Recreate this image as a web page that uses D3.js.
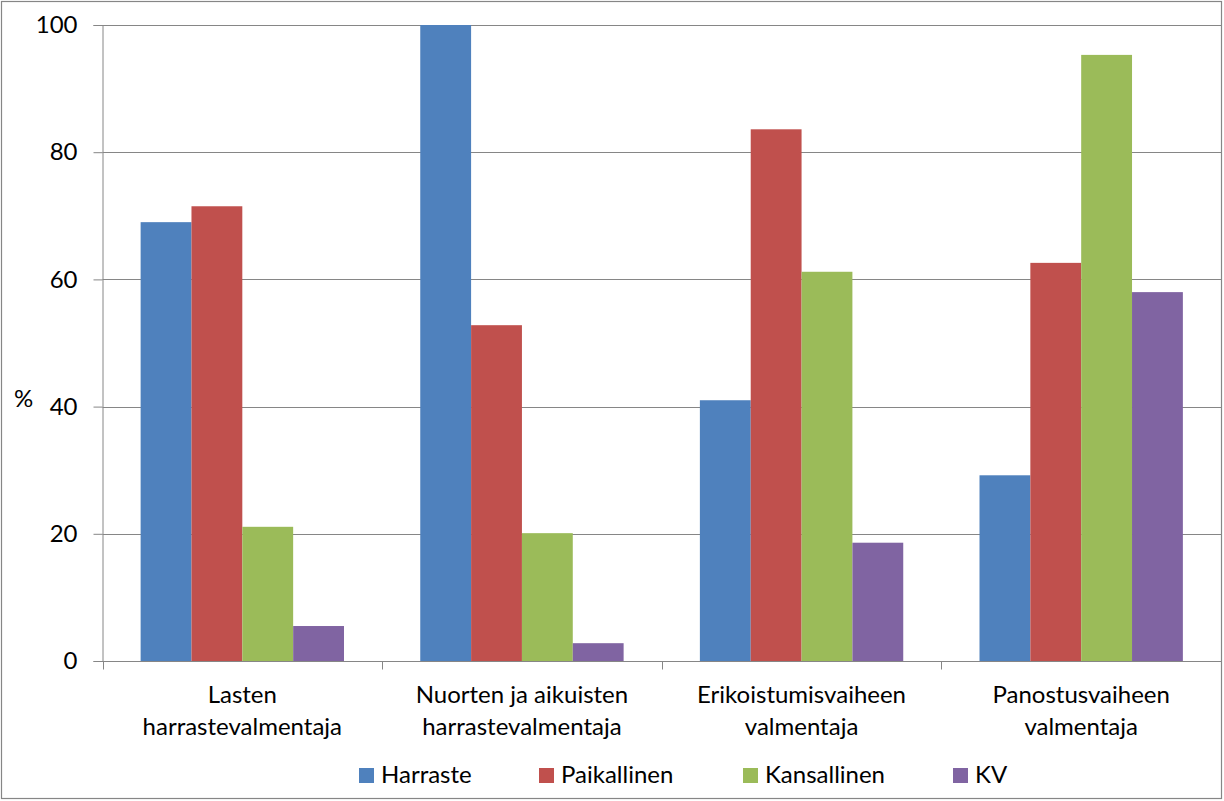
<!DOCTYPE html>
<html><head><meta charset="utf-8">
<script src="https://cdn.jsdelivr.net/npm/d3@7"></script>
<style>body{margin:0;background:#fff}svg{display:block}</style>
</head><body>
<svg id="c" width="1224" height="801"></svg>
<script>
const categories = [["Lasten","harrastevalmentaja"],["Nuorten ja aikuisten","harrastevalmentaja"],["Erikoistumisvaiheen","valmentaja"],["Panostusvaiheen","valmentaja"]];
const seriesNames = ["Harraste","Paikallinen","Kansallinen","KV"];
const seriesColors = ["#4f81bd","#c0504d","#9bbb59","#8064a2"];
const harraste = [69.0, 100, 41.0, 29.2];
const paikallinen = [71.5, 52.8, 83.6, 62.6];
const kansallinen = [21.1, 20.1, 61.2, 95.3];
const kv = [5.5, 2.8, 18.6, 58.0];
const yTicks = [0,20,40,60,80,100];

const values = [harraste, paikallinen, kansallinen, kv];
const svg = d3.select("#c");
const font = "Lato, 'Open Sans', sans-serif";
const fs = 24;
const L=102.5, R=1221, T=25, B=661;
const grey="#868686";

svg.append("rect").attr("x",1.5).attr("y",1.5).attr("width",1220).attr("height",797)
  .attr("fill","none").attr("stroke",grey).attr("stroke-width",1.2);

const catIdx = categories.map((c,i)=>i);
const x0 = d3.scaleBand().domain(catIdx).range([L,R]).padding(0);
const bw = x0.bandwidth()/5.5;
const x1 = d3.scaleBand().domain(d3.range(seriesNames.length)).range([0.75*bw, 0.75*bw+4*bw]).padding(0);
const y = d3.scaleLinear().domain([0,100]).range([B,T]);

// gridlines
svg.append("g").selectAll("line").data(yTicks.filter(t=>t>0)).join("line")
  .attr("x1",L).attr("x2",R).attr("y1",d=>Math.round(y(d))+0.5).attr("y2",d=>Math.round(y(d))+0.5)
  .attr("stroke",grey).attr("stroke-width",1);

// bars
const g = svg.append("g");
catIdx.forEach(ci=>{
  g.append("g").selectAll("rect").data(values.map((s,si)=>({si,v:s[ci]}))).join("rect")
    .attr("x",d=>x0(ci)+x1(d.si)).attr("width",x1.bandwidth())
    .attr("y",d=>y(d.v)).attr("height",d=>B-y(d.v))
    .attr("fill",d=>seriesColors[d.si]);
});

// y axis
const yAxis = d3.axisLeft(y).tickValues(yTicks).tickSize(9).tickPadding(16);
const ya = svg.append("g").attr("transform",`translate(${L},0)`).call(yAxis);
ya.select(".domain").attr("stroke",grey);
ya.selectAll(".tick line").attr("stroke",grey);
ya.selectAll(".tick text").attr("font-family",font).attr("font-size",fs).attr("fill","#000");

// x axis
const xa = svg.append("g").attr("transform",`translate(0,${B+0.5})`);
xa.append("line").attr("x1",L).attr("x2",R).attr("stroke",grey);
const bounds = catIdx.map(i=>x0(i)).concat([R]);
xa.selectAll("line.t").data(bounds).join("line").attr("class","t")
  .attr("x1",d=>Math.round(d)+0.5).attr("x2",d=>Math.round(d)+0.5).attr("y1",0).attr("y2",8).attr("stroke",grey);
const lbl = svg.append("g");
catIdx.forEach(ci=>{
  const t = lbl.append("text").attr("text-anchor","middle").attr("font-family",font).attr("font-size",fs).attr("fill","#000");
  categories[ci].forEach((line,li)=>{
    t.append("tspan").attr("x",x0(ci)+x0.bandwidth()/2).attr("y",703+li*32).text(line);
  });
});

// y label
svg.append("text").attr("x",14).attr("y",407).attr("font-family",font).attr("font-size",fs).text("%");

// legend
const legX = [359, 539, 743, 953];
const leg = svg.append("g");
seriesNames.forEach((n,i)=>{
  leg.append("rect").attr("x",legX[i]).attr("y",768).attr("width",15).attr("height",15).attr("fill",seriesColors[i]);
  leg.append("text").attr("x",legX[i]+22).attr("y",783).attr("font-family",font).attr("font-size",fs).text(n);
});
</script>
</body></html>
